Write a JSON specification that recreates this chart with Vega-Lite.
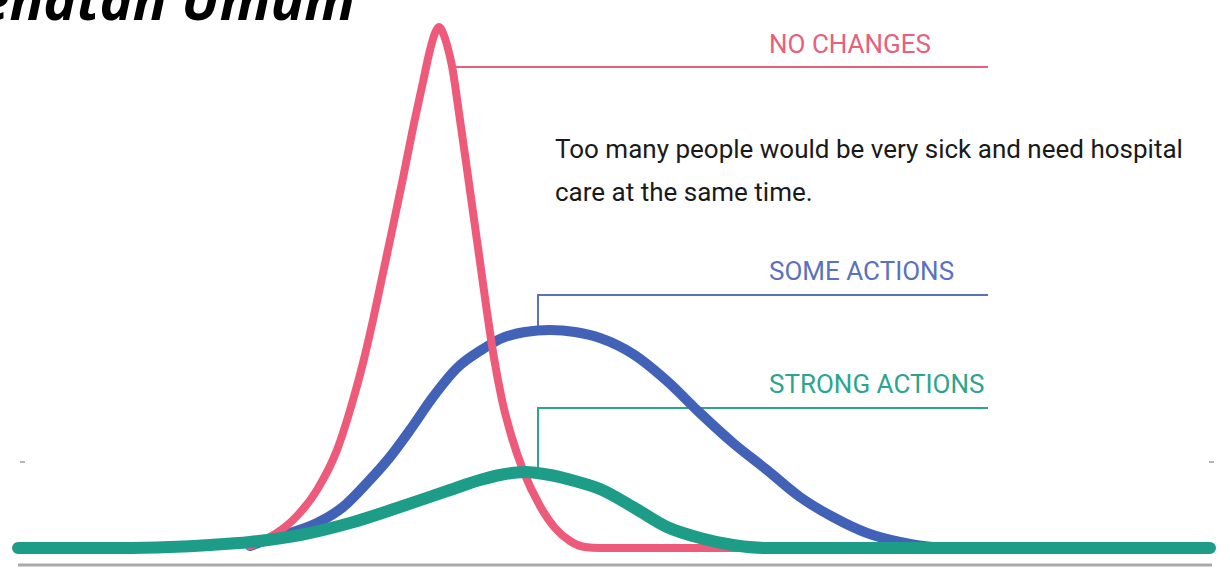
{
  "$schema": "https://vega.github.io/schema/vega-lite/v6.json",
  "width": 1230,
  "height": 570,
  "autosize": {"type": "none"},
  "padding": 0,
  "background": "white",
  "config": {"view": {"stroke": null}},
  "datasets": {
    "curves": [
      {"t": 250, "cases": 2, "scenario": "SOME ACTIONS"},
      {"t": 267, "cases": 8, "scenario": "SOME ACTIONS"},
      {"t": 290, "cases": 15, "scenario": "SOME ACTIONS"},
      {"t": 317, "cases": 25, "scenario": "SOME ACTIONS"},
      {"t": 343, "cases": 41, "scenario": "SOME ACTIONS"},
      {"t": 367, "cases": 65, "scenario": "SOME ACTIONS"},
      {"t": 390, "cases": 91, "scenario": "SOME ACTIONS"},
      {"t": 410, "cases": 118, "scenario": "SOME ACTIONS"},
      {"t": 433, "cases": 151, "scenario": "SOME ACTIONS"},
      {"t": 457, "cases": 180, "scenario": "SOME ACTIONS"},
      {"t": 483, "cases": 199, "scenario": "SOME ACTIONS"},
      {"t": 500, "cases": 209, "scenario": "SOME ACTIONS"},
      {"t": 525, "cases": 216, "scenario": "SOME ACTIONS"},
      {"t": 550, "cases": 218, "scenario": "SOME ACTIONS"},
      {"t": 575, "cases": 216, "scenario": "SOME ACTIONS"},
      {"t": 600, "cases": 210, "scenario": "SOME ACTIONS"},
      {"t": 633, "cases": 194, "scenario": "SOME ACTIONS"},
      {"t": 667, "cases": 167, "scenario": "SOME ACTIONS"},
      {"t": 700, "cases": 135, "scenario": "SOME ACTIONS"},
      {"t": 733, "cases": 105, "scenario": "SOME ACTIONS"},
      {"t": 767, "cases": 78, "scenario": "SOME ACTIONS"},
      {"t": 800, "cases": 51, "scenario": "SOME ACTIONS"},
      {"t": 833, "cases": 31, "scenario": "SOME ACTIONS"},
      {"t": 867, "cases": 15, "scenario": "SOME ACTIONS"},
      {"t": 900, "cases": 6, "scenario": "SOME ACTIONS"},
      {"t": 933, "cases": 1, "scenario": "SOME ACTIONS"},
      {"t": 960, "cases": 0, "scenario": "SOME ACTIONS"},
      {"t": 250, "cases": 2, "scenario": "NO CHANGES"},
      {"t": 270, "cases": 11, "scenario": "NO CHANGES"},
      {"t": 293, "cases": 28, "scenario": "NO CHANGES"},
      {"t": 317, "cases": 58, "scenario": "NO CHANGES"},
      {"t": 337, "cases": 98, "scenario": "NO CHANGES"},
      {"t": 353, "cases": 148, "scenario": "NO CHANGES"},
      {"t": 363, "cases": 185, "scenario": "NO CHANGES"},
      {"t": 373, "cases": 228, "scenario": "NO CHANGES"},
      {"t": 383, "cases": 275, "scenario": "NO CHANGES"},
      {"t": 393, "cases": 322, "scenario": "NO CHANGES"},
      {"t": 403, "cases": 370, "scenario": "NO CHANGES"},
      {"t": 413, "cases": 420, "scenario": "NO CHANGES"},
      {"t": 423, "cases": 466, "scenario": "NO CHANGES"},
      {"t": 430, "cases": 498, "scenario": "NO CHANGES"},
      {"t": 435, "cases": 515, "scenario": "NO CHANGES"},
      {"t": 439, "cases": 521, "scenario": "NO CHANGES"},
      {"t": 443, "cases": 515, "scenario": "NO CHANGES"},
      {"t": 447, "cases": 503, "scenario": "NO CHANGES"},
      {"t": 452, "cases": 482, "scenario": "NO CHANGES"},
      {"t": 459, "cases": 435, "scenario": "NO CHANGES"},
      {"t": 466, "cases": 386, "scenario": "NO CHANGES"},
      {"t": 473, "cases": 336, "scenario": "NO CHANGES"},
      {"t": 480, "cases": 286, "scenario": "NO CHANGES"},
      {"t": 487, "cases": 236, "scenario": "NO CHANGES"},
      {"t": 494, "cases": 190, "scenario": "NO CHANGES"},
      {"t": 502, "cases": 148, "scenario": "NO CHANGES"},
      {"t": 512, "cases": 110, "scenario": "NO CHANGES"},
      {"t": 523, "cases": 78, "scenario": "NO CHANGES"},
      {"t": 540, "cases": 42, "scenario": "NO CHANGES"},
      {"t": 555, "cases": 20, "scenario": "NO CHANGES"},
      {"t": 570, "cases": 7, "scenario": "NO CHANGES"},
      {"t": 585, "cases": 1, "scenario": "NO CHANGES"},
      {"t": 600, "cases": 0, "scenario": "NO CHANGES"},
      {"t": 760, "cases": 0, "scenario": "NO CHANGES"},
      {"t": 18, "cases": 0, "scenario": "STRONG ACTIONS"},
      {"t": 120, "cases": 0, "scenario": "STRONG ACTIONS"},
      {"t": 170, "cases": 1, "scenario": "STRONG ACTIONS"},
      {"t": 210, "cases": 3, "scenario": "STRONG ACTIONS"},
      {"t": 250, "cases": 6, "scenario": "STRONG ACTIONS"},
      {"t": 300, "cases": 13, "scenario": "STRONG ACTIONS"},
      {"t": 350, "cases": 25, "scenario": "STRONG ACTIONS"},
      {"t": 400, "cases": 41, "scenario": "STRONG ACTIONS"},
      {"t": 450, "cases": 58, "scenario": "STRONG ACTIONS"},
      {"t": 480, "cases": 68, "scenario": "STRONG ACTIONS"},
      {"t": 500, "cases": 73, "scenario": "STRONG ACTIONS"},
      {"t": 525, "cases": 76, "scenario": "STRONG ACTIONS"},
      {"t": 550, "cases": 73, "scenario": "STRONG ACTIONS"},
      {"t": 575, "cases": 67, "scenario": "STRONG ACTIONS"},
      {"t": 600, "cases": 59, "scenario": "STRONG ACTIONS"},
      {"t": 633, "cases": 41, "scenario": "STRONG ACTIONS"},
      {"t": 667, "cases": 21, "scenario": "STRONG ACTIONS"},
      {"t": 700, "cases": 10, "scenario": "STRONG ACTIONS"},
      {"t": 733, "cases": 3, "scenario": "STRONG ACTIONS"},
      {"t": 767, "cases": 0, "scenario": "STRONG ACTIONS"},
      {"t": 1210, "cases": 0, "scenario": "STRONG ACTIONS"}
    ],
    "leaders": [
      {"t": 455, "cases": 481, "scenario": "NO CHANGES", "k": 1},
      {"t": 988, "cases": 481, "scenario": "NO CHANGES", "k": 2},
      {"t": 538, "cases": 218, "scenario": "SOME ACTIONS", "k": 1},
      {"t": 538, "cases": 253, "scenario": "SOME ACTIONS", "k": 2},
      {"t": 988, "cases": 253, "scenario": "SOME ACTIONS", "k": 3},
      {"t": 538, "cases": 76, "scenario": "STRONG ACTIONS", "k": 1},
      {"t": 538, "cases": 140, "scenario": "STRONG ACTIONS", "k": 2},
      {"t": 988, "cases": 140, "scenario": "STRONG ACTIONS", "k": 3}
    ],
    "labels": [
      {"t": 769, "cases": 503, "scenario": "NO CHANGES"},
      {"t": 769, "cases": 276, "scenario": "SOME ACTIONS"},
      {"t": 769, "cases": 163, "scenario": "STRONG ACTIONS"}
    ],
    "notes": [
      {"t": 555, "cases": 398, "note": "Too many people would be very sick and need hospital"},
      {"t": 555, "cases": 355, "note": "care at the same time."}
    ],
    "heading": [
      {"t": 355, "cases": 528, "note": "Kesehatan Umum"}
    ],
    "axisline": [
      {"t": 18, "t2": 1212, "cases": -17}
    ],
    "ticks": [
      {"t": 20, "t2": 25, "cases": 86},
      {"t": 1209, "t2": 1214, "cases": 86}
    ]
  },
  "layer": [
    {
      "data": {"name": "axisline"},
      "mark": {"type": "rule", "color": "#a9a9a9", "strokeWidth": 3},
      "encoding": {
        "x": {"field": "t", "type": "quantitative", "scale": {"domain": [0, 1230], "nice": false, "zero": false}, "axis": null},
        "x2": {"field": "t2"},
        "y": {"field": "cases", "type": "quantitative", "scale": {"domain": [-22, 548], "nice": false, "zero": false}, "axis": null}
      }
    },
    {
      "data": {"name": "ticks"},
      "mark": {"type": "rule", "color": "#b5b5b5", "strokeWidth": 2},
      "encoding": {
        "x": {"field": "t", "type": "quantitative"},
        "x2": {"field": "t2"},
        "y": {"field": "cases", "type": "quantitative"}
      }
    },
    {
      "data": {"name": "leaders"},
      "mark": {"type": "line", "strokeWidth": 2, "interpolate": "linear"},
      "encoding": {
        "x": {"field": "t", "type": "quantitative"},
        "y": {"field": "cases", "type": "quantitative"},
        "order": {"field": "k", "type": "quantitative"},
        "detail": {"field": "scenario"},
        "color": {"field": "scenario", "type": "nominal", "legend": null,
          "scale": {"domain": ["NO CHANGES", "SOME ACTIONS", "STRONG ACTIONS"], "range": ["#e8607c", "#5a72bd", "#2da58d"]}}
      }
    },
    {
      "data": {"name": "curves"},
      "transform": [{"filter": "datum.scenario === 'SOME ACTIONS'"}],
      "mark": {"type": "line", "strokeWidth": 10, "strokeCap": "round", "interpolate": "monotone", "color": "#4262b8"},
      "encoding": {
        "x": {"field": "t", "type": "quantitative"},
        "y": {"field": "cases", "type": "quantitative"}
      }
    },
    {
      "data": {"name": "curves"},
      "transform": [{"filter": "datum.scenario === 'NO CHANGES'"}],
      "mark": {"type": "line", "strokeWidth": 8, "strokeCap": "round", "strokeJoin": "round", "interpolate": "monotone", "color": "#ee5a79"},
      "encoding": {
        "x": {"field": "t", "type": "quantitative"},
        "y": {"field": "cases", "type": "quantitative"}
      }
    },
    {
      "data": {"name": "curves"},
      "transform": [{"filter": "datum.scenario === 'STRONG ACTIONS'"}],
      "mark": {"type": "line", "strokeWidth": 12, "strokeCap": "round", "interpolate": "monotone", "color": "#1d9c88"},
      "encoding": {
        "x": {"field": "t", "type": "quantitative"},
        "y": {"field": "cases", "type": "quantitative"}
      }
    },
    {
      "data": {"name": "labels"},
      "mark": {"type": "text", "align": "left", "baseline": "middle", "font": "Roboto", "fontSize": 26},
      "encoding": {
        "x": {"field": "t", "type": "quantitative"},
        "y": {"field": "cases", "type": "quantitative"},
        "text": {"field": "scenario"},
        "color": {"field": "scenario", "type": "nominal", "legend": null,
          "scale": {"domain": ["NO CHANGES", "SOME ACTIONS", "STRONG ACTIONS"], "range": ["#e0607e", "#4e5ea6", "#22967f"]}}
      }
    },
    {
      "data": {"name": "notes"},
      "mark": {"type": "text", "align": "left", "baseline": "middle", "font": "Roboto", "fontSize": 26, "color": "#1a1a1a"},
      "encoding": {
        "x": {"field": "t", "type": "quantitative"},
        "y": {"field": "cases", "type": "quantitative"},
        "text": {"field": "note"}
      }
    },
    {
      "data": {"name": "heading"},
      "mark": {"type": "text", "align": "right", "baseline": "alphabetic", "font": "Open Sans", "fontSize": 56, "fontWeight": "bold", "fontStyle": "italic", "color": "#000000"},
      "encoding": {
        "x": {"field": "t", "type": "quantitative"},
        "y": {"field": "cases", "type": "quantitative"},
        "text": {"field": "note"}
      }
    }
  ]
}
